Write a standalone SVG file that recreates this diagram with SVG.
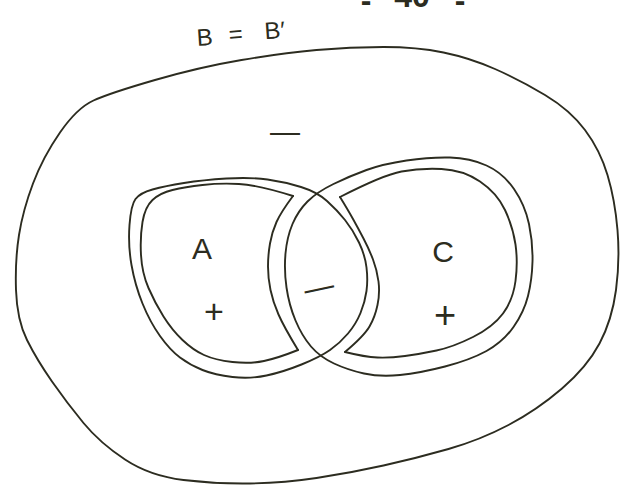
<svg xmlns="http://www.w3.org/2000/svg" width="621" height="486" viewBox="0 0 621 486">
  <style>
    .ln { fill: none; stroke: #2c2c20; stroke-width: 1.9; stroke-linecap: round; stroke-linejoin: round; }
    .lb { font-family: "Liberation Sans", "DejaVu Sans", sans-serif; fill: #2c2c20; }
  </style>
  <rect width="621" height="486" fill="#ffffff"/>

  <!-- page number, clipped at the top edge -->
  <text class="lb" font-size="32" font-weight="bold" text-anchor="middle">
    <tspan x="366" y="11">-</tspan><tspan x="412" y="7">40</tspan><tspan x="460" y="11">-</tspan>
  </text>

  <!-- title B = B' -->
  <text class="lb" font-size="24" transform="rotate(-4 240 40)">
    <tspan x="197" y="43">B</tspan><tspan x="229" y="42">=</tspan><tspan x="265" y="41">B′</tspan>
  </text>

  <!-- outer universe B -->
  <g id="outer-B">
    <path class="ln" d="M 93.5,100.5 Q 110,93 155,80 Q 200,67 241.5,60 Q 283,53 316.5,50 Q 350,47 383.5,47 Q 417,47 443.5,52.5 Q 470,58 495,69 Q 520,80 545,95 Q 570,110 585,130 Q 600,150 607.5,175 Q 615,200 617.5,230 Q 620,260 616,290 Q 612,320 599.5,343.5 Q 587,367 562,388.5 Q 537,410 508.5,425 Q 480,440 448.5,449 Q 417,458 383.5,465.5 Q 350,473 316.5,478 Q 283,483 250,483.5 Q 217,484 183.5,480 Q 150,476 125,459.5 Q 100,443 83.5,423 Q 67,403 52,381.5 Q 37,360 27,340 Q 17,320 16,290 Q 15,260 19,235 Q 23,210 33,183.5 Q 43,157 60,132.5 Q 77,108 93.5,100.5 Z"/>
    <text class="lb" font-size="30" x="285" y="142" text-anchor="middle">—</text>
  </g>

  <!-- region A -->
  <g id="region-A">
    <path class="ln" d="M 301,187 Q 317,192 327,201 Q 337,210 345,220 Q 353,230 359,242.5 Q 365,255 366.5,267.5 Q 368,280 366.5,291 Q 365,302 360.5,313 Q 356,324 348,333.5 Q 340,343 330,350 Q 320,357 301.5,364.5 Q 283,372 266.5,375.5 Q 250,379 232.5,377 Q 215,375 202.5,370 Q 190,365 180,357.5 Q 170,350 160,336 Q 150,322 142.5,303.5 Q 135,285 131.5,265 Q 128,245 129.5,225 Q 131,205 135.5,199 Q 140,193 152.5,189.5 Q 165,186 184,183 Q 203,180 226.5,178.5 Q 250,177 267.5,179.5 Q 285,182 301,187 Z"/>
    <path class="ln" d="M 293,196 Q 281,212 276.5,222 Q 272,232 270,243.5 Q 268,255 268,266.5 Q 268,278 270.5,290 Q 273,302 278.5,314.5 Q 284,327 298,350"/>
    <path class="ln" d="M 298,350 Q 278,358 264,361 Q 250,364 232.5,362 Q 215,360 204,355 Q 193,350 182.5,340 Q 172,330 163.5,316.5 Q 155,303 148.5,288 Q 142,273 141,255 Q 140,237 142.5,222 Q 145,207 152.5,200 Q 160,193 172.5,190 Q 185,187 202.5,185 Q 220,183 239,184 Q 258,185 293,196"/>
    <text class="lb" font-size="30" x="202" y="259" text-anchor="middle">A</text>
    <text class="lb" font-size="34" x="214" y="323" text-anchor="middle">+</text>
  </g>

  <!-- region C -->
  <g id="region-C">
    <path class="ln" d="M 307.5,201.5 Q 317,192 333.5,184 Q 350,176 366.5,170 Q 383,164 406.5,160.5 Q 430,157 450,157.5 Q 470,158 486.5,165.5 Q 503,173 514,189 Q 525,205 529,224 Q 533,243 532.5,261.5 Q 532,280 528,296 Q 524,312 513.5,327 Q 503,342 486.5,351 Q 470,360 445,366.5 Q 420,373 400,375 Q 380,377 364,373.5 Q 348,370 334,363.5 Q 320,357 311,346.5 Q 302,336 295.5,320.5 Q 289,305 286.5,287.5 Q 284,270 285.5,253.5 Q 287,237 292.5,224 Q 298,211 307.5,201.5 Z"/>
    <path class="ln" d="M 340,197 Q 348,210 353,219 Q 358,228 363.5,238.5 Q 369,249 373,259.5 Q 377,270 378.5,281.5 Q 380,293 377.5,305 Q 375,317 369.5,326.5 Q 364,336 345,352"/>
    <path class="ln" d="M 345,352 Q 365,357 377.5,357.5 Q 390,358 405,356 Q 420,354 436.5,350.5 Q 453,347 473,337 Q 493,327 503,313.5 Q 513,300 515.5,281 Q 518,262 515.5,244.5 Q 513,227 505,210 Q 497,193 480,181.5 Q 463,170 441.5,169 Q 420,168 401.5,171.5 Q 383,175 340,197"/>
    <text class="lb" font-size="30" x="443" y="262" text-anchor="middle">C</text>
    <text class="lb" font-size="38" x="445" y="328" text-anchor="middle">+</text>
  </g>

  <!-- intersection mark -->
  <g id="lens-AC">
    <text class="lb" font-size="30" x="319" y="297" text-anchor="middle" transform="rotate(-12 319 288)">—</text>
  </g>
</svg>
